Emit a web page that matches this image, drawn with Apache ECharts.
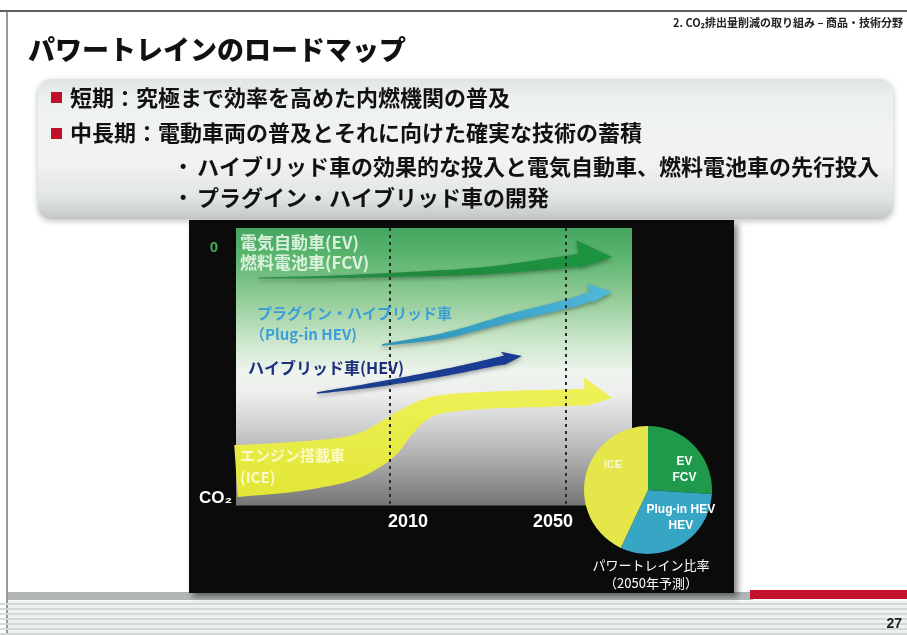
<!DOCTYPE html>
<html>
<head>
<meta charset="utf-8">
<script src="https://cdn.jsdelivr.net/npm/echarts@6/dist/echarts.min.js"></script>
<style>
html, body { margin: 0; padding: 0; background: #ffffff; }
#chart { width: 907px; height: 635px; }
</style>
</head>
<body>
<div id="chart"></div>
<script>
// Year axis ticks and the two ends of the CO2 axis
const yearTicks = [2010, 2050];
const co2Ticks = [0, 100];

// Roadmap arrows: centre-line points (year, CO2 index where 0 = zero emission).
// The last point of each list is the arrow tip.
const evYears   = [1980, 1996, 2010, 2030.5, 2045.7, 2053.2, 2060.5];
const evCO2     = [12, 11.6, 10.8, 9.2, 6.4, 4.8, 3.6];
const phevYears = [2008.2, 2023, 2038, 2050.2, 2055.9, 2060.5];
const phevCO2   = [38.8, 34.8, 27.6, 22.4, 19.2, 17.6];
const hevYears  = [1993.4, 2007.7, 2023, 2032.7, 2036.1, 2040];
const hevCO2    = [58, 54.4, 49.6, 46, 44.8, 43.2];
const iceYears  = [1975, 1987.7, 1999.1, 2005, 2008.9, 2012.7, 2016.8, 2021.8, 2033.2, 2048.2, 2054.3, 2060.5];
const iceCO2    = [89.2, 87.6, 84.8, 81.2, 76.8, 70.8, 65.6, 62.4, 60.8, 60, 59.6, 60];

// Powertrain mix forecast for 2050 (%)
const mixNames  = ['EV\nFCV', 'Plug-in HEV\nHEV', 'ICE'];
const mixValues = [26, 31, 43];
const mixColors = ['#1f9a4a', '#36a6c4', '#e4e64a'];
// label nudges inside the slices (px)
const mixLabelShift = [[11, 4], [15, -2], [-1, -17]];

const JP = '"Noto Sans CJK JP", "Noto Sans", sans-serif';
const LAT = '"Liberation Sans", Arial, sans-serif';

function catmull(p0, p1, p2, p3, t) {
  const t2 = t * t, t3 = t2 * t;
  const f = (a, b, c, d) => 0.5 * ((2 * b) + (-a + c) * t + (2 * a - 5 * b + 4 * c - d) * t2 + (-a + 3 * b - 3 * c + d) * t3);
  return [f(p0[0], p1[0], p2[0], p3[0]), f(p0[1], p1[1], p2[1], p3[1])];
}

// Builds a tapered, smoothly curved arrow from the data points of one series.
function arrowItem(xs, ys, look) {
  return function (params, api) {
    if (params.dataIndex !== 0) return null;
    const pts = xs.map((x, i) => api.coord([x, ys[i]]));
    const tip = pts[pts.length - 1];
    const shaft = pts.slice(0, -1);
    const n = shaft.length;
    const samples = [], widths = [];
    for (let i = 0; i < n - 1; i++) {
      const p0 = shaft[Math.max(i - 1, 0)], p1 = shaft[i], p2 = shaft[i + 1], p3 = shaft[Math.min(i + 2, n - 1)];
      for (let k = 0; k < 12; k++) {
        const t = k / 12;
        samples.push(catmull(p0, p1, p2, p3, t));
        widths.push(look.widths[i] + (look.widths[i + 1] - look.widths[i]) * t);
      }
    }
    samples.push(shaft[n - 1]);
    widths.push(look.widths[n - 1]);
    const upper = [], lower = [];
    for (let i = 0; i < samples.length; i++) {
      const a = samples[Math.max(i - 1, 0)], b = samples[Math.min(i + 1, samples.length - 1)];
      let dx = b[0] - a[0], dy = b[1] - a[1];
      const L = Math.hypot(dx, dy) || 1; dx /= L; dy /= L;
      const nx = dy, ny = -dx, h = widths[i] / 2;
      upper.push([samples[i][0] + nx * h, samples[i][1] + ny * h]);
      lower.push([samples[i][0] - nx * h, samples[i][1] - ny * h]);
    }
    const base = shaft[n - 1];
    let dx = tip[0] - base[0], dy = tip[1] - base[1];
    const L = Math.hypot(dx, dy) || 1; dx /= L; dy /= L;
    const nx = dy, ny = -dx;
    const cornerUp = [base[0] + nx * look.up - dx * look.back, base[1] + ny * look.up - dy * look.back];
    const cornerDown = [base[0] - nx * look.down - dx * look.back, base[1] - ny * look.down - dy * look.back];
    const points = upper.concat([cornerUp, tip, cornerDown], lower.reverse());
    return {
      type: 'polygon',
      shape: { points: points },
      style: {
        fill: look.fill,
        shadowBlur: look.shadow ? 4 : 0,
        shadowOffsetY: look.shadow ? 2 : 0,
        shadowColor: 'rgba(0,0,0,0.35)'
      }
    };
  };
}

function hGrad(stops) {
  return { type: 'linear', x: 0, y: 0, x2: 1, y2: 0, colorStops: stops.map((c, i) => ({ offset: i / (stops.length - 1), color: c })) };
}

function arrowSeries(name, xs, ys, look, z) {
  return {
    name: name,
    type: 'custom',
    coordinateSystem: 'cartesian2d',
    silent: true,
    clip: false,
    z: z,
    data: xs.map((x, i) => [x, ys[i]]),
    renderItem: arrowItem(xs, ys, look)
  };
}

// Decorative stripes of the slide footer
const footerStripes = [];
for (let y = 603; y < 635; y += 5) {
  footerStripes.push({
    type: 'rect', z: -5, silent: true,
    shape: { x: 0, y: y, width: 907, height: 2 },
    style: { fill: '#d3d8d8' }
  });
}

function txt(text, x, y, font, fill, align, z) {
  return {
    type: 'text', x: x, y: y, z: z || 50, silent: true,
    style: { text: text, font: font, fill: fill, align: align || 'left', verticalAlign: 'middle' }
  };
}

const chart = echarts.init(document.getElementById('chart'), null, { renderer: 'canvas' });

const option = {
  backgroundColor: '#ffffff',
  animation: false,
  grid: {
    left: 236, top: 228, width: 396, height: 277.5,
    show: true, borderWidth: 0,
    backgroundColor: {
      type: 'linear', x: 0, y: 0, x2: 0, y2: 1,
      colorStops: [
        { offset: 0, color: '#44a660' },
        { offset: 0.1, color: '#5ab46e' },
        { offset: 0.25, color: '#91cb95' },
        { offset: 0.4, color: '#c9e5c9' },
        { offset: 0.52, color: '#eef4ee' },
        { offset: 0.6, color: '#ededed' },
        { offset: 0.72, color: '#cfcfcf' },
        { offset: 0.86, color: '#a4a4a4' },
        { offset: 1, color: '#747474' }
      ]
    }
  },
  xAxis: {
    type: 'value', min: 1975, max: 2065,
    axisLine: { show: false }, axisTick: { show: false }, splitLine: { show: false },
    axisLabel: {
      customValues: yearTicks,
      margin: 8,
      formatter: v => (v === 2010 ? '{a|' + v + '}' : '{b|' + v + '}'),
      rich: {
        a: { color: '#ffffff', fontSize: 18, fontWeight: 'bold', fontFamily: LAT, padding: [0, 0, 0, 36] },
        b: { color: '#ffffff', fontSize: 18, fontWeight: 'bold', fontFamily: LAT, padding: [0, 26, 0, 0] }
      }
    }
  },
  yAxis: {
    type: 'value', inverse: true, min: -8, max: 103,
    axisLine: { show: false }, axisTick: { show: false }, splitLine: { show: false },
    axisLabel: {
      customValues: co2Ticks,
      margin: 4,
      formatter: v => (v === 0 ? '{z|0}' : '{c|CO₂}'),
      rich: {
        z: { color: '#3fae55', fontSize: 15, fontWeight: 'bold', fontFamily: LAT, padding: [0, 14, 0, 0] },
        c: { color: '#ffffff', fontSize: 17, fontWeight: 'bold', fontFamily: LAT }
      }
    }
  },
  series: [
    {
      name: 'milestones',
      type: 'line',
      data: [],
      z: 1,
      markLine: {
        silent: true,
        symbol: ['none', 'none'],
        label: { show: false },
        lineStyle: { color: '#2a2a2a', type: [3, 4], width: 2 },
        data: yearTicks.map(y => ({ xAxis: y }))
      }
    },
    arrowSeries('ICE', iceYears, iceCO2, {
      widths: [52, 50, 45, 40, 37, 28, 21, 18, 17, 17, 16],
      up: 20, down: 10, back: 2,
      fill: { type: 'linear', x: 0, y: 0, x2: 0, y2: 1, colorStops: [{ offset: 0, color: '#eef25a' }, { offset: 1, color: '#e2e636' }] },
      shadow: false
    }, 3),
    arrowSeries('HEV', hevYears, hevCO2, {
      widths: [1.5, 5, 7, 8, 9],
      up: 9, down: 5, back: 2,
      fill: hGrad(['#1d3f8a', '#1b3d92', '#1a3a94']),
      shadow: true
    }, 4),
    arrowSeries('Plug-in HEV', phevYears, phevCO2, {
      widths: [1.5, 6, 8, 9, 10],
      up: 13, down: 7, back: 2,
      fill: hGrad(['#2f93b6', '#3aa4c8', '#52b8dc']),
      shadow: true
    }, 4),
    arrowSeries('EV/FCV', evYears, evCO2, {
      widths: [1, 2.5, 4, 7, 11, 13],
      up: 20, down: 8, back: 2,
      fill: hGrad(['#2a8f45', '#21893d', '#1a953f']),
      shadow: true
    }, 4),
    {
      name: 'mix2050',
      type: 'pie',
      center: [648, 490],
      radius: 64,
      startAngle: 90,
      clockwise: true,
      silent: true,
      z: 6,
      itemStyle: { borderWidth: 0 },
      labelLine: { show: false },
      labelLayout: { hideOverlap: false },
      label: {
        position: 'inside',
        formatter: '{b}',
        color: '#ffffff',
        fontWeight: 'bold',
        fontSize: 12,
        lineHeight: 16,
        fontFamily: LAT
      },
      data: mixNames.map((name, i) => ({
        name: name,
        value: mixValues[i],
        itemStyle: { color: mixColors[i] },
        label: i === 2
          ? { offset: mixLabelShift[i], fontSize: 11, color: '#f6f6e2' }
          : { offset: mixLabelShift[i] }
      }))
    }
  ],
  graphic: {
    elements: [
      // slide frame
      { type: 'line', z: -5, silent: true, shape: { x1: 0, y1: 11, x2: 907, y2: 11 }, style: { stroke: '#5e5e5e', lineWidth: 2 } },
      { type: 'line', z: -5, silent: true, shape: { x1: 7, y1: 11, x2: 7, y2: 635 }, style: { stroke: '#777777', lineWidth: 1.5 } },
      // footer
      { type: 'rect', z: -6, silent: true, shape: { x: 8, y: 601, width: 899, height: 34 }, style: { fill: '#eef1f1' } },
      ...footerStripes,
      { type: 'rect', z: -5, silent: true, shape: { x: 8, y: 592, width: 745, height: 8 }, style: { fill: '#b2b6b6' } },
      { type: 'rect', z: -5, silent: true, shape: { x: 750, y: 590, width: 157, height: 9 }, style: { fill: '#c4122a' } },
      txt('27', 902, 624, 'bold 14px ' + LAT, '#222222', 'right'),
      // header
      txt('2. CO₂排出量削減の取り組み – 商品・技術分野', 903, 23, 'bold 11px ' + JP, '#222222', 'right'),
      txt('パワートレインのロードマップ', 28, 50, '900 27px ' + JP, '#111111', 'left'),
      // bullet box
      {
        type: 'rect', z: -4, silent: true,
        shape: { x: 38, y: 79, width: 855, height: 140, r: 14 },
        style: {
          fill: {
            type: 'linear', x: 0, y: 0, x2: 0, y2: 1,
            colorStops: [
              { offset: 0, color: '#dfe5e2' },
              { offset: 0.15, color: '#eef2ef' },
              { offset: 0.6, color: '#f1f3f1' },
              { offset: 0.85, color: '#e0e4e2' },
              { offset: 1, color: '#c3c8c6' }
            ]
          },
          shadowBlur: 6, shadowOffsetY: 2, shadowColor: 'rgba(0,0,0,0.25)'
        }
      },
      { type: 'rect', z: 10, silent: true, shape: { x: 51, y: 92, width: 11, height: 11 }, style: { fill: '#c0102c' } },
      { type: 'rect', z: 10, silent: true, shape: { x: 51, y: 128, width: 11, height: 11 }, style: { fill: '#c0102c' } },
      txt('短期：究極まで効率を高めた内燃機関の普及', 70, 98, 'bold 22px ' + JP, '#111111'),
      txt('中長期：電動車両の普及とそれに向けた確実な技術の蓄積', 70, 133, 'bold 22px ' + JP, '#111111'),
      txt('•', 180, 167, 'bold 18px ' + LAT, '#111111'),
      txt('ハイブリッド車の効果的な投入と電気自動車、燃料電池車の先行投入', 197, 167, 'bold 22px ' + JP, '#111111'),
      txt('•', 180, 198, 'bold 18px ' + LAT, '#111111'),
      txt('プラグイン・ハイブリッド車の開発', 197, 198, 'bold 22px ' + JP, '#111111'),
      // dark panel behind the roadmap
      {
        type: 'rect', z: -3, silent: true,
        shape: { x: 189, y: 220, width: 545, height: 373 },
        style: { fill: '#0b0b0b', shadowBlur: 6, shadowOffsetX: 4, shadowOffsetY: 4, shadowColor: 'rgba(0,0,0,0.45)' }
      },
      // arrow captions
      txt('電気自動車(EV)', 240, 243, 'bold 17px ' + JP, 'rgba(236,250,236,0.88)'),
      txt('燃料電池車(FCV)', 240, 263, 'bold 17px ' + JP, 'rgba(236,250,236,0.88)'),
      txt('プラグイン・ハイブリッド車', 257, 313, 'bold 15px ' + JP, '#3a9fd6'),
      txt('（Plug-in HEV)', 250, 334, 'bold 15px ' + JP, '#3a9fd6'),
      txt('ハイブリッド車(HEV)', 248, 368, 'bold 16px ' + JP, '#1c2f7c'),
      txt('エンジン搭載車', 240, 455, 'bold 15px ' + JP, 'rgba(255,255,235,0.8)'),
      txt('(ICE)', 240, 477, 'bold 15px ' + JP, 'rgba(255,255,235,0.8)'),
      // pie caption
      txt('パワートレイン比率', 651, 565, '13px ' + JP, '#ffffff', 'center'),
      txt('（2050年予測）', 651, 583, '13px ' + JP, '#ffffff', 'center')
    ]
  }
};

chart.setOption(option);
</script>
</body>
</html>
